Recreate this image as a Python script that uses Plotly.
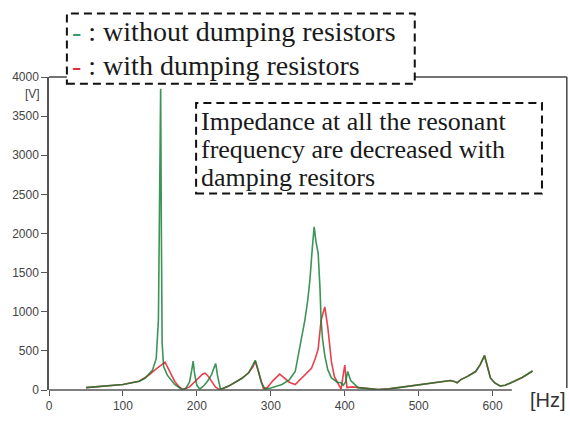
import plotly.graph_objects as go

# ---- data ----
freq_without = [50, 80, 100, 122, 130, 140, 145, 148, 150, 151, 152, 153, 155, 160, 170, 180,
                185, 190, 193, 195, 197, 200, 204, 210, 215, 220, 223, 225.5, 228, 232,
                243, 261, 270, 275, 279, 283, 287, 292, 300, 315, 325, 333, 339, 346, 350,
                353, 356, 358.6, 361, 364, 366.5, 368, 370, 373, 377, 382, 390, 395, 398,
                401, 404, 408, 418, 430, 445, 460, 480, 503, 520, 543, 548, 552, 557, 566,
                577, 583, 589, 593, 597, 603, 610, 617, 624, 640, 654]
volt_without = [30, 50, 70, 113, 150, 255, 400, 900, 2500, 3850, 2000, 600, 300, 190, 70, 5,
                20, 100, 250, 370, 200, 60, 10, 60, 120, 200, 280, 338, 180, 10,
                50, 150, 220, 300, 378, 250, 100, 10, 25, 70, 130, 236, 522, 890, 1150,
                1422, 1800, 2086, 1900, 1750, 1300, 890, 650, 440, 260, 154, 100, 92, 60,
                100, 236, 120, 30, 15, 5, 15, 40, 72, 92, 121, 110, 92, 133, 174,
                236, 320, 440, 280, 154, 90, 51, 60, 92, 160, 243]

freq_with = [50, 80, 100, 122, 135, 145, 152, 157, 160, 165, 170, 175, 181, 190, 197, 203,
             208, 211, 215, 220, 225, 230, 235, 243, 261, 270, 276, 279, 283, 287, 290,
             295, 303, 312, 318, 325, 333, 342, 350, 355, 360, 364, 368, 373, 377, 382,
             386, 391, 395, 400, 403, 410, 418, 430, 445, 460, 480, 503, 520, 543, 548,
             552, 557, 566, 577, 583, 589, 593, 597, 603, 610, 617, 624, 640, 654]
volt_with = [30, 50, 70, 113, 190, 270, 320, 355, 300, 200, 110, 50, 5, 40, 100, 160,
             205, 215, 180, 110, 40, 8, 15, 50, 150, 220, 300, 370, 230, 90, 20,
             30, 120, 202, 160, 100, 70, 154, 220, 276, 400, 522, 890, 1062, 808, 358,
             170, 70, 10, 317, 30, 40, 30, 15, 5, 15, 40, 72, 92, 121, 110,
             92, 133, 174, 236, 320, 440, 280, 154, 90, 51, 60, 92, 160, 243]

x_ticks = [0, 100, 200, 300, 400, 500, 600]
y_ticks = [0, 500, 1000, 1500, 2000, 2500, 3000, 3500, 4000]
x_axis_end = 626
legend_lines = ["without dumping resistors", "with dumping resistors"]
note_lines = ["Impedance at all the resonant", "frequency are decreased with",
              "damping resitors"]

GREEN = "#0c7a2c"
RED = "#e8404c"

# ---- geometry helpers (pixel -> paper) ----
W, H = 570, 425
ML, MR, MT, MB = 46, 33, 77, 23
PW, PH = W - ML - MR, H - MT - MB


def px(x):
    return (x - ML) / PW


def py(y):
    return (H - MB - y) / PH


fig = go.Figure()
fig.add_trace(go.Scatter(x=freq_with, y=volt_with, mode="lines",
                         line=dict(color=RED, width=1.6), showlegend=False))
fig.add_trace(go.Scatter(x=freq_without, y=volt_without, mode="lines",
                         line=dict(color=GREEN, width=1.6), opacity=0.8,
                         showlegend=False))

serif = "Liberation Serif"
sans = "Liberation Sans"

fig.update_layout(
    width=W, height=H,
    margin=dict(l=ML, r=MR, t=MT, b=MB),
    plot_bgcolor="white", paper_bgcolor="white",
    xaxis=dict(range=[0, 660], tickvals=x_ticks, ticks="outside", ticklen=5,
               tickwidth=1.2, tickcolor="#555", showline=False, showgrid=False,
               zeroline=False, tickfont=dict(family=sans, size=12, color="#444")),
    yaxis=dict(range=[0, 4000], tickvals=y_ticks, ticks="outside", ticklen=6,
               tickwidth=1.2, tickcolor="#555", showline=True, linecolor="#555",
               linewidth=1.5, showgrid=False, zeroline=False,
               tickfont=dict(family=sans, size=12, color="#444")),
)

shapes = []
# x axis baseline (stops at 626 Hz)
shapes.append(dict(type="line", xref="x", yref="paper", x0=0, x1=x_axis_end, y0=0, y1=0,
                   line=dict(color="#555", width=1.5)))
# top frame and right frame
shapes.append(dict(type="line", xref="paper", yref="paper", x0=0, x1=px(567), y0=1, y1=1,
                   line=dict(color="#444", width=1.5)))
shapes.append(dict(type="line", xref="paper", yref="paper", x0=px(567), x1=px(567),
                   y0=1, y1=py(400), line=dict(color="#444", width=1.5)))
# legend box
shapes.append(dict(type="rect", xref="paper", yref="paper", x0=px(64), x1=px(414),
                   y0=py(84), y1=py(11), fillcolor="white",
                   line=dict(color="#111", width=2, dash="8px,5px"), layer="above"))
# note box
shapes.append(dict(type="rect", xref="paper", yref="paper", x0=px(194), x1=px(542),
                   y0=py(198), y1=py(104), fillcolor="rgba(0,0,0,0)",
                   line=dict(color="#111", width=2, dash="8px,5px"), layer="above"))
fig.update_layout(shapes=shapes)

ann = []
ann.append(dict(xref="paper", yref="paper", x=px(67), y=py(30), xanchor="left",
                yanchor="middle", showarrow=False,
                text=f"<span style='color:#2f9e6e'>-</span> : {legend_lines[0]}",
                font=dict(family=serif, size=28, color="#1a1a1a")))
ann.append(dict(xref="paper", yref="paper", x=px(67), y=py(65), xanchor="left",
                yanchor="middle", showarrow=False,
                text=f"<span style='color:#e0303c'>-</span> : {legend_lines[1]}",
                font=dict(family=serif, size=28, color="#1a1a1a")))
for line, yc in zip(note_lines, [123, 152, 181]):
    ann.append(dict(xref="paper", yref="paper", x=px(197), y=py(yc), xanchor="left",
                    yanchor="middle", showarrow=False, text=line,
                    font=dict(family=serif, size=26, color="#1a1a1a")))
ann.append(dict(xref="paper", yref="paper", x=px(548), y=py(412), xanchor="center",
                yanchor="middle", showarrow=False, text="[Hz]",
                font=dict(family=sans, size=20, color="#333")))
ann.append(dict(xref="paper", yref="paper", x=px(39), y=py(95), xanchor="right",
                yanchor="middle", showarrow=False, text="[V]",
                font=dict(family=sans, size=12, color="#444")))
fig.update_layout(annotations=ann)

fig.write_html("out.html")
